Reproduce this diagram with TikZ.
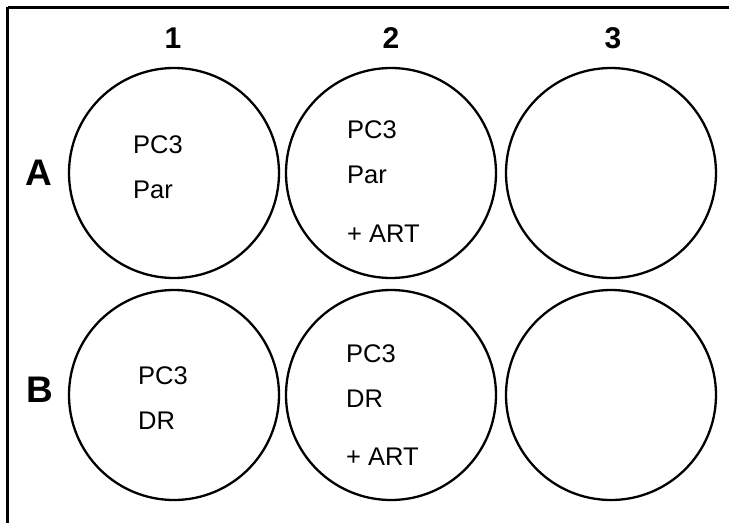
\documentclass[tikz,border=0pt]{standalone}
\usepackage{fontspec}
\setmainfont{Liberation Sans}
\begin{document}
\begin{tikzpicture}[x=1pt,y=-1pt,
  well/.style={circle,draw=black,line width=2.3pt,minimum size=210pt,inner sep=0pt},
  lbl/.style={inner sep=0pt,anchor=base west,font=\fontsize{25.5}{28}\selectfont},
  colhead/.style={inner sep=0pt,anchor=base,font=\fontsize{30}{32}\selectfont\bfseries},
  rowhead/.style={inner sep=0pt,anchor=base,font=\fontsize{37}{40}\selectfont\bfseries}]
\useasboundingbox (0,0) rectangle (729,523);
\coordinate (fbl) at (7.5,523);
\coordinate (ftl) at (7.5,7);
\coordinate (ftr) at (729,7);
\draw[line width=2.2pt] (fbl) -- (ftl);
\draw[line width=3pt] (ftl) -- (ftr);
% column headers
\node[colhead] (h1) at (173,48) {1};
\node[colhead] (h2) at (391,48) {2};
\node[colhead] (h3) at (613,48) {3};
% row headers
\node[rowhead] (rA) at (39,185) {A};
\node[rowhead] (rB) at (40,402) {B};
% wells
\node[well] (A1) at (174,173) {};
\node[well] (A2) at (391,173) {};
\node[well] (A3) at (611,173) {};
\node[well] (B1) at (174,395) {};
\node[well] (B2) at (391,395) {};
\node[well] (B3) at (611,395) {};
% texts
\node[lbl] (a1a) at (133,153) {PC3};
\node[lbl] (a1b) at (133,198) {Par};
\node[lbl] (a2a) at (347,138) {PC3};
\node[lbl] (a2b) at (347,183) {Par};
\node[lbl] (a2c) at (347,242) {+ ART};
\node[lbl] (b1a) at (138,384) {PC3};
\node[lbl] (b1b) at (138,429) {DR};
\node[lbl] (b2a) at (346,362) {PC3};
\node[lbl] (b2b) at (346,407) {DR};
\node[lbl] (b2c) at (346,465) {+ ART};
\end{tikzpicture}
\end{document}
